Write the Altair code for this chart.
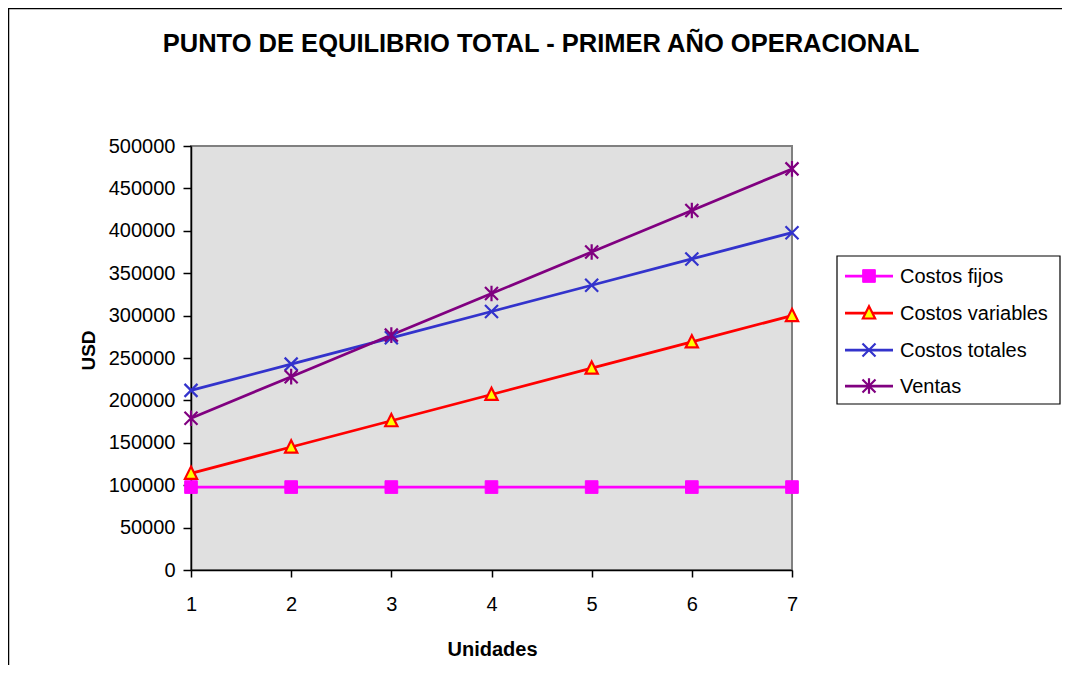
import altair as alt
import pandas as pd

# ---- data ----
unidades = [1, 2, 3, 4, 5, 6, 7]
costos_fijos = [97800, 97800, 97800, 97800, 97800, 97800, 97800]
costos_variables = [114000, 145000, 176000, 207000, 238000, 269000, 300000]
costos_totales = [211800, 242800, 273800, 304800, 335800, 366800, 397800]
ventas = [179000, 228000, 277000, 326000, 375000, 424000, 473000]

series_names = ["Costos fijos", "Costos variables", "Costos totales", "Ventas"]
series_colors = ["#FF00FF", "#FF0000", "#3333CC", "#800080"]
y_ticks = [0, 50000, 100000, 150000, 200000, 250000, 300000, 350000, 400000, 450000, 500000]
title_text = "PUNTO DE EQUILIBRIO TOTAL - PRIMER AÑO OPERACIONAL"

FONT = "Liberation Sans"

# marker styles per series
marker_styles = {
    "Costos fijos": dict(shape="square", size=160, filled=True, fill="#FF00FF",
                         stroke="#FF00FF", strokeWidth=1),
    "Costos variables": dict(shape="M0,-1.1L1,0.9L-1,0.9Z", size=150, filled=True,
                             fill="#FFFF00", stroke="#FF0000", strokeWidth=2.2),
    "Costos totales": dict(shape="M-1,-1L1,1M-1,1L1,-1", size=169, filled=False,
                           stroke="#3333CC", strokeWidth=2.2),
    "Ventas": dict(shape="M-1,-1L1,1M-1,1L1,-1M0,-1.2V1.2", size=169, filled=False,
                   stroke="#800080", strokeWidth=2.2),
}

rows = []
for name, vals in zip(series_names, [costos_fijos, costos_variables, costos_totales, ventas]):
    for u, v in zip(unidades, vals):
        rows.append({"serie": name, "unidades": u, "valor": v})
df = pd.DataFrame(rows)

x_enc = alt.X(
    "unidades:Q",
    scale=alt.Scale(domain=[1, 7], nice=False, zero=False),
    axis=alt.Axis(values=unidades, format="d", title="Unidades", labelFontSize=20,
                  tickSize=7, labelPadding=17, titleFontSize=20, titleFontWeight="bold",
                  titleX=301, titleY=85, titleBaseline="alphabetic", titleAlign="center",
                  labelFlush=False, labelOverlap=False),
)
y_enc = alt.Y(
    "valor:Q",
    scale=alt.Scale(domain=[0, 500000], nice=False, zero=True),
    axis=alt.Axis(values=y_ticks, format="d", title="USD", labelFontSize=20,
                  tickSize=8, labelPadding=8, titleFontSize=19, titleFontWeight="bold",
                  titleAngle=270, titleX=-97, titleY=204, titleAlign="center",
                  titleBaseline="alphabetic", labelFlush=False, labelOverlap=False),
)

one = alt.Data(values=[{"k": 1}])

# outer frame of the chart object
frame = alt.Chart(one).mark_rect(
    fillOpacity=0, stroke="black", strokeWidth=1.5
).encode(x=alt.value(-182.5), x2=alt.value(950), y=alt.value(-137.5), y2=alt.value(560))

lines = alt.Chart(df).mark_line(strokeWidth=2.75).encode(
    x=x_enc, y=y_enc,
    color=alt.Color("serie:N", scale=alt.Scale(domain=series_names, range=series_colors), legend=None),
    order=alt.Order("unidades:Q"),
)

point_layers = []
for name in series_names:
    point_layers.append(
        alt.Chart(df).transform_filter(alt.datum.serie == name)
        .mark_point(opacity=1, **marker_styles[name])
        .encode(x=x_enc, y=y_enc)
    )

# ---- legend (drawn as a framed box to the right of the plot) ----
legend_box = dict(x=646, x2=869, y=110, y2=258)
legend_row_y = [130, 167, 204, 240]
legend_line_x = (654, 702)
legend_marker_x = 678
legend_text_x = 709

legend_layers = [
    alt.Chart(one).mark_rect(fill="white", stroke="black", strokeWidth=1.2).encode(
        x=alt.value(legend_box["x"]), x2=alt.value(legend_box["x2"]),
        y=alt.value(legend_box["y"]), y2=alt.value(legend_box["y2"]))
]
for name, color, ry in zip(series_names, series_colors, legend_row_y):
    legend_layers.append(
        alt.Chart(one).mark_rule(color=color, strokeWidth=2.75).encode(
            x=alt.value(legend_line_x[0]), x2=alt.value(legend_line_x[1]), y=alt.value(ry))
    )
    legend_layers.append(
        alt.Chart(one).mark_point(opacity=1, **marker_styles[name]).encode(
            x=alt.value(legend_marker_x), y=alt.value(ry))
    )
    legend_layers.append(
        alt.Chart(alt.Data(values=[{"label": name}])).mark_text(
            font=FONT, fontSize=20, color="black", align="left", baseline="middle"
        ).encode(x=alt.value(legend_text_x), y=alt.value(ry + 1), text="label:N")
    )

title = alt.Chart(alt.Data(values=[{"t": title_text}])).mark_text(
    font=FONT, fontSize=25.5, fontWeight="bold", color="black", align="center", baseline="alphabetic"
).encode(x=alt.value(350), y=alt.value(-94), text="t:N")

chart = alt.layer(frame, lines, *point_layers, *legend_layers, title).properties(
    width=601, height=424,
    autosize=alt.AutoSizeParams(type="none"),
    padding={"left": 183, "top": 138, "right": 270, "bottom": 95},
    background="white",
).configure_view(
    stroke="#808080", strokeWidth=2, fill="#E0E0E0"
).configure_axis(
    domainColor="black", tickColor="black", labelColor="black", titleColor="black",
    grid=False, domainWidth=1.5, tickWidth=1.5, labelFont=FONT, titleFont=FONT,
)

chart.save("out.html", embed_options={"renderer": "svg", "actions": False})
